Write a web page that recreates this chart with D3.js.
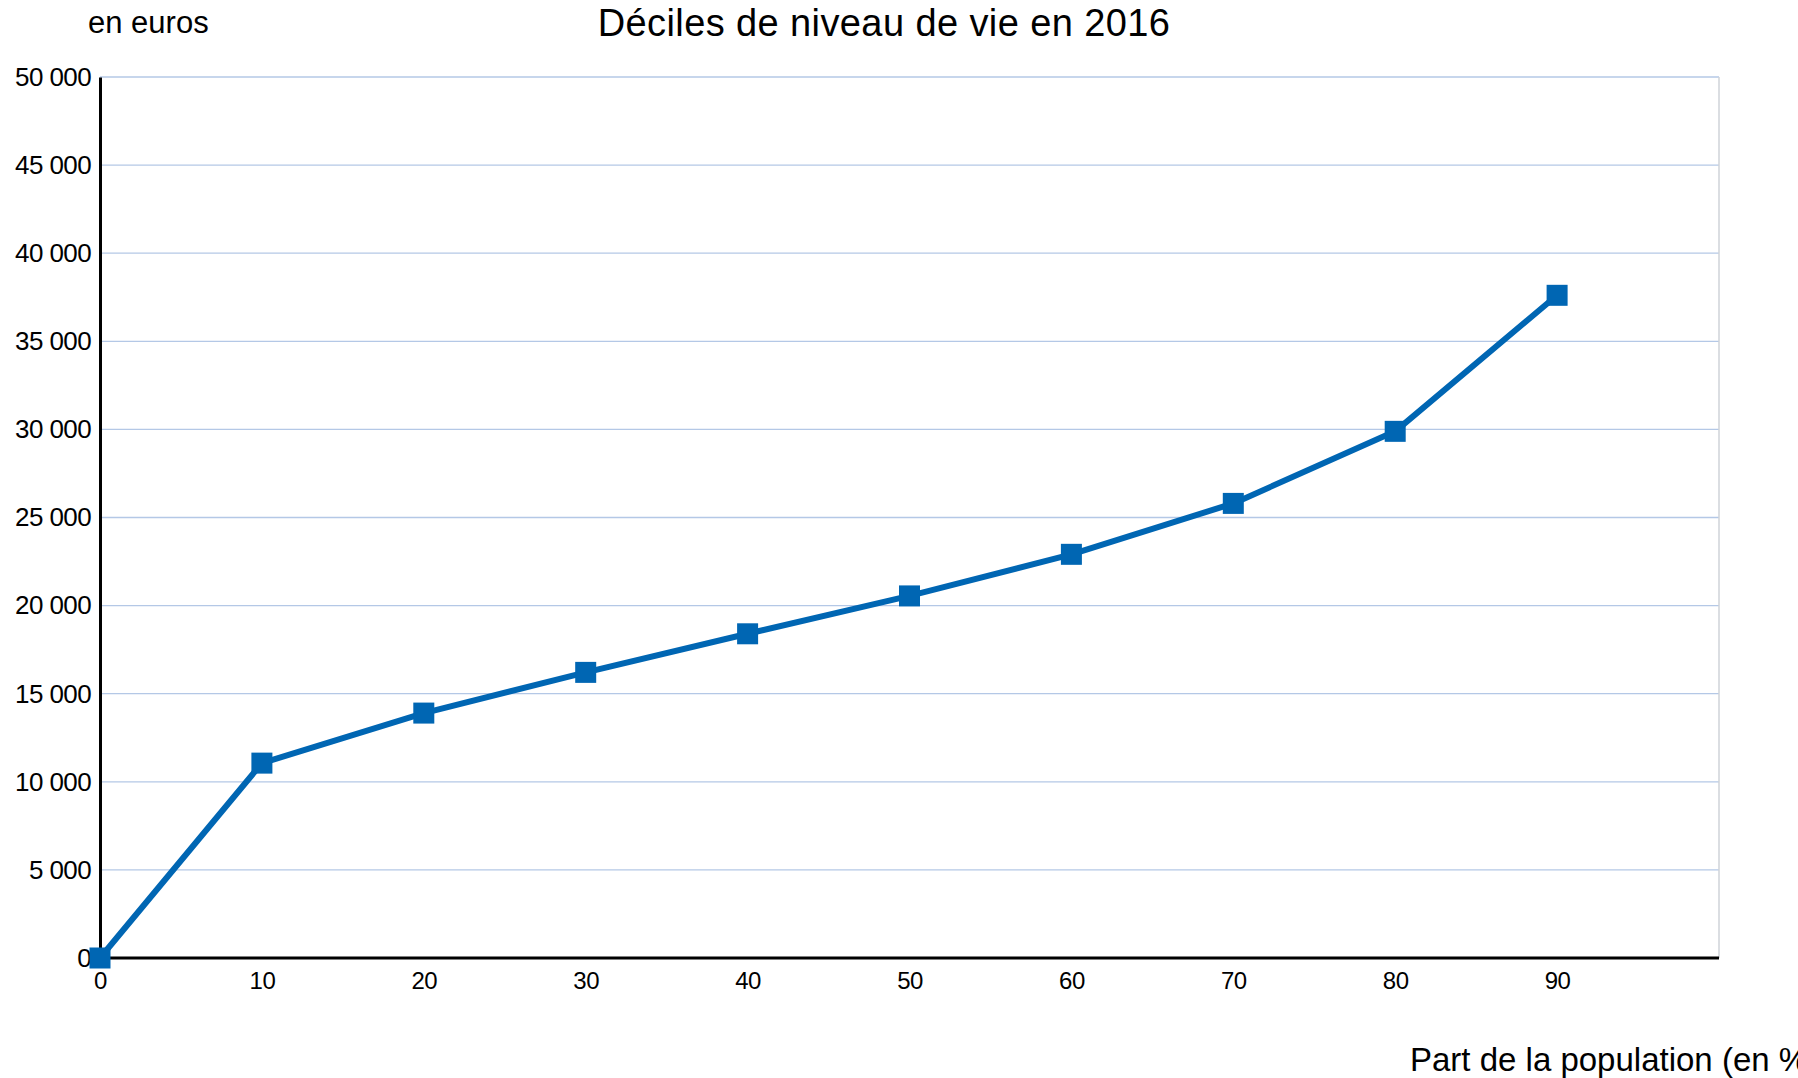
<!DOCTYPE html>
<html>
<head>
<meta charset="utf-8">
<script src="https://cdn.jsdelivr.net/npm/d3@7"></script>
<style>
  body { margin: 0; background: #fff; overflow: hidden; }
  text { font-family: "Liberation Sans", Arial, sans-serif; fill: #000; }
</style>
</head>
<body>
<svg id="chart"></svg>
<script>
// data
const deciles = [0, 10, 20, 30, 40, 50, 60, 70, 80, 90];
const niveauVie = [0, 11060, 13900, 16210, 18400, 20550, 22910, 25800, 29890, 37610];
const xTicks = [0, 10, 20, 30, 40, 50, 60, 70, 80, 90];
const yTicks = [0, 5000, 10000, 15000, 20000, 25000, 30000, 35000, 40000, 45000, 50000];

const W = 1798, H = 1078;
const plotLeft = 100, plotRight = 1719, plotTop = 77, plotBottom = 958;
const blue = '#0066b3';

const svg = d3.select('#chart').attr('width', W).attr('height', H);

const xs = d3.scaleLinear().domain([0, 100]).range([plotLeft, plotRight]);
const ys = d3.scaleLinear().domain([0, 50000]).range([plotBottom, plotTop]);
const fr = d3.formatLocale({decimal: ',', thousands: '\u00a0', grouping: [3], currency: ['', ' €']});
const fmt = fr.format(',d');

// gridlines
svg.append('g')
    .selectAll('line')
    .data(yTicks.filter(d => d > 0))
    .enter().append('line')
    .attr('x1', plotLeft).attr('x2', plotRight)
    .attr('y1', d => ys(d)).attr('y2', d => ys(d))
    .attr('stroke', '#b4c8e6').attr('stroke-width', 1.3);

// right border
svg.append('line')
    .attr('x1', plotRight).attr('x2', plotRight)
    .attr('y1', plotTop).attr('y2', plotBottom)
    .attr('stroke', '#cfd3d8').attr('stroke-width', 1.5);

// y axis
const yAxis = svg.append('g')
    .attr('transform', `translate(${plotLeft},0)`)
    .call(d3.axisLeft(ys).tickValues(yTicks).tickFormat(fmt).tickSize(0).tickPadding(9));
yAxis.select('.domain').attr('stroke', '#000').attr('stroke-width', 3);
yAxis.selectAll('text')
    .style('font-family', '"Liberation Sans", Arial, sans-serif')
    .style('font-size', '26px')
    .style('letter-spacing', '-0.6px')
    .attr('fill', '#000');

// x axis
const xAxis = svg.append('g')
    .attr('transform', `translate(0,${plotBottom})`)
    .call(d3.axisBottom(xs).tickValues(xTicks).tickFormat(d3.format('d')).tickSize(0).tickPadding(14));
xAxis.select('.domain').attr('stroke', '#000').attr('stroke-width', 3)
    .attr('d', `M${plotLeft},0H${plotRight}`);
xAxis.selectAll('text')
    .style('font-family', '"Liberation Sans", Arial, sans-serif')
    .style('font-size', '24px')
    .style('letter-spacing', '-0.5px')
    .attr('fill', '#000');

// line
const points = deciles.map((d, i) => ({x: d, y: niveauVie[i]}));
svg.append('path')
    .datum(points)
    .attr('fill', 'none')
    .attr('stroke', blue)
    .attr('stroke-width', 6)
    .attr('stroke-linejoin', 'round')
    .attr('d', d3.line().x(d => xs(d.x)).y(d => ys(d.y)));

const size = 21;
svg.append('g')
    .selectAll('rect')
    .data(points)
    .enter().append('rect')
    .attr('x', d => xs(d.x) - size / 2)
    .attr('y', d => ys(d.y) - size / 2)
    .attr('width', size)
    .attr('height', size)
    .attr('fill', blue);

// titles
svg.append('text')
    .attr('x', 884).attr('y', 36)
    .attr('text-anchor', 'middle')
    .style('font-size', '38px')
    .style('letter-spacing', '0.4px')
    .text('Déciles de niveau de vie en 2016');

svg.append('text')
    .attr('x', 88).attr('y', 33)
    .style('font-size', '31px')
    .text('en euros');

// axis title runs off the right edge in the original too
svg.append('text')
    .attr('x', 1410).attr('y', 1071)
    .style('font-size', '33px')
    .text('Part de la population (en %)');
</script>
</body>
</html>
